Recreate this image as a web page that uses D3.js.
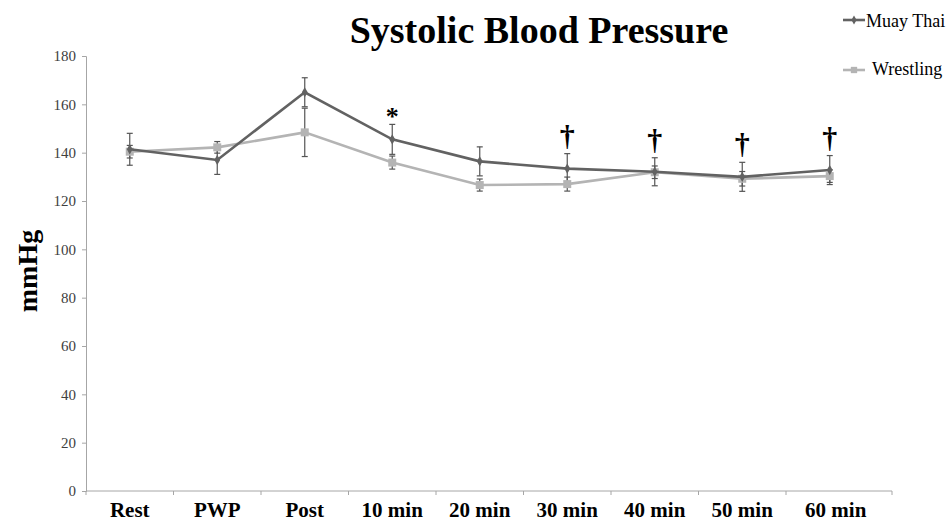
<!DOCTYPE html>
<html>
<head>
<meta charset="utf-8">
<script src="https://cdn.jsdelivr.net/npm/d3@7"></script>
<style>
  html, body { margin: 0; padding: 0; background: #fff; }
  svg { display: block; }
</style>
</head>
<body>
<svg id="chart" width="949" height="522"></svg>
<script>
// ---- Data ----
const categories = ["Rest", "PWP", "Post", "10 min", "20 min", "30 min", "40 min", "50 min", "60 min"];
const muayThai    = [141.4, 137.0, 165.0, 145.5, 136.4, 133.4, 132.1, 130.0, 132.8];
const muayThaiErr = [6.6, 6.0, 6.0, 6.2, 6.0, 6.2, 5.8, 6.0, 6.0];
const wrestling    = [140.4, 142.2, 148.4, 135.9, 126.6, 127.0, 131.9, 129.2, 130.3];
const wrestlingErr = [2.6, 2.4, 10.0, 2.7, 2.5, 2.9, 2.6, 3.0, 2.6];
const annotations  = ["", "", "", "*", "", "†", "†", "†", "†"];
const yTicks = [0, 20, 40, 60, 80, 100, 120, 140, 160, 180];
const seriesNames = ["Muay Thai", "Wrestling"];

// ---- Layout ----
const svg = d3.select("#chart");
const mLeft = 86, mRight = 873.5, axisEnd = 892, mTop = 56, mBottom = 491;
const serif = "'Liberation Serif', 'Times New Roman', serif";

const x = d3.scaleBand().domain(categories).range([mLeft, mRight]).paddingInner(0).paddingOuter(0);
const y = d3.scaleLinear().domain([0, 180]).range([mBottom, mTop]);
const cx = c => x(c) + x.bandwidth() / 2;

// Title
svg.append("text")
  .attr("x", 539).attr("y", 43)
  .attr("text-anchor", "middle")
  .attr("font-family", serif).attr("font-weight", "bold").attr("font-size", 38)
  .attr("fill", "#000")
  .text("Systolic Blood Pressure");

// Y axis
const yAxis = svg.append("g")
  .attr("transform", `translate(${mLeft},0)`)
  .call(d3.axisLeft(y).tickValues(yTicks).tickSize(4).tickPadding(6));
yAxis.select(".domain").attr("stroke", "#a6a6a6");
yAxis.selectAll(".tick line").attr("stroke", "#a6a6a6");
yAxis.selectAll(".tick text")
  .attr("font-family", serif).attr("font-size", 15).attr("fill", "#404040");

// Y label
svg.append("text")
  .attr("transform", `translate(37,271) rotate(-90)`)
  .attr("text-anchor", "middle")
  .attr("font-family", serif).attr("font-weight", "bold").attr("font-size", 28)
  .attr("fill", "#000")
  .text("mmHg");

// X axis
const xg = svg.append("g");
xg.append("line")
  .attr("x1", mLeft).attr("x2", axisEnd).attr("y1", mBottom).attr("y2", mBottom)
  .attr("stroke", "#a6a6a6").attr("stroke-width", 1);
const boundaries = categories.map(c => x(c)).concat([axisEnd]);
xg.selectAll("line.tk").data(boundaries).join("line")
  .attr("class", "tk")
  .attr("x1", d => d).attr("x2", d => d)
  .attr("y1", mBottom).attr("y2", mBottom + 4)
  .attr("stroke", "#a6a6a6");
xg.selectAll("text").data(categories).join("text")
  .attr("x", (d, i) => cx(d) + (i === categories.length - 1 ? 6 : 0))
  .attr("y", 517)
  .attr("text-anchor", "middle")
  .attr("font-family", serif).attr("font-weight", "bold").attr("font-size", 21)
  .attr("fill", "#000")
  .text(d => d);

// Series
const series = [
  { name: seriesNames[0], values: muayThai, err: muayThaiErr, color: "#626262", marker: "diamond" },
  { name: seriesNames[1], values: wrestling, err: wrestlingErr, color: "#b4b4b4", marker: "square" }
];

const line = d3.line().x((d, i) => cx(categories[i])).y(d => y(d));

// Error bars (drawn first, behind lines)
series.slice().reverse().forEach(s => {
  const g = svg.append("g");
  s.values.forEach((v, i) => {
    const xc = cx(categories[i]);
    const y1 = y(v + s.err[i]), y2 = y(v - s.err[i]);
    g.append("line").attr("x1", xc).attr("x2", xc).attr("y1", y1).attr("y2", y2)
      .attr("stroke", "#555").attr("stroke-width", 1.2);
    [y1, y2].forEach(yy => g.append("line")
      .attr("x1", xc - 3).attr("x2", xc + 3).attr("y1", yy).attr("y2", yy)
      .attr("stroke", "#555").attr("stroke-width", 1.2));
  });
});

// Lines + markers: wrestling first, Muay Thai on top
[series[1], series[0]].forEach(s => {
  svg.append("path")
    .datum(s.values)
    .attr("d", line)
    .attr("fill", "none")
    .attr("stroke", s.color)
    .attr("stroke-width", 2.6);
  const sym = s.marker === "diamond"
    ? d3.symbol().type(d3.symbolDiamond).size(30)
    : d3.symbol().type(d3.symbolSquare).size(64);
  svg.append("g").selectAll("path").data(s.values).join("path")
    .attr("d", sym)
    .attr("transform", (d, i) => `translate(${cx(categories[i])},${y(d)})`)
    .attr("fill", s.color);
});

// Significance annotations
annotations.forEach((a, i) => {
  if (!a) return;
  const errTop = y(muayThai[i] + muayThaiErr[i]);
  const isDagger = a === "†";
  svg.append("text")
    .attr("x", cx(categories[i]))
    .attr("y", isDagger ? errTop - 8 : errTop + 1)
    .attr("text-anchor", "middle")
    .attr("font-family", serif).attr("font-weight", "bold")
    .attr("font-size", isDagger ? 30 : 26)
    .attr("fill", "#000")
    .text(a);
});

// Legend
const legend = [
  { s: series[0], ly: 20, tx: 866, ty: 27 },
  { s: series[1], ly: 70, tx: 872, ty: 75 }
];
legend.forEach(l => {
  svg.append("line")
    .attr("x1", 843).attr("x2", 865).attr("y1", l.ly).attr("y2", l.ly)
    .attr("stroke", l.s.color).attr("stroke-width", 2.6);
  const sym = l.s.marker === "diamond"
    ? d3.symbol().type(d3.symbolDiamond).size(24)
    : d3.symbol().type(d3.symbolSquare).size(40);
  svg.append("path").attr("d", sym)
    .attr("transform", `translate(854,${l.ly})`)
    .attr("fill", l.s.color);
  svg.append("text")
    .attr("x", l.tx).attr("y", l.ty)
    .attr("font-family", serif).attr("font-size", 18)
    .attr("fill", "#000")
    .text(l.s.name);
});
</script>
</body>
</html>
